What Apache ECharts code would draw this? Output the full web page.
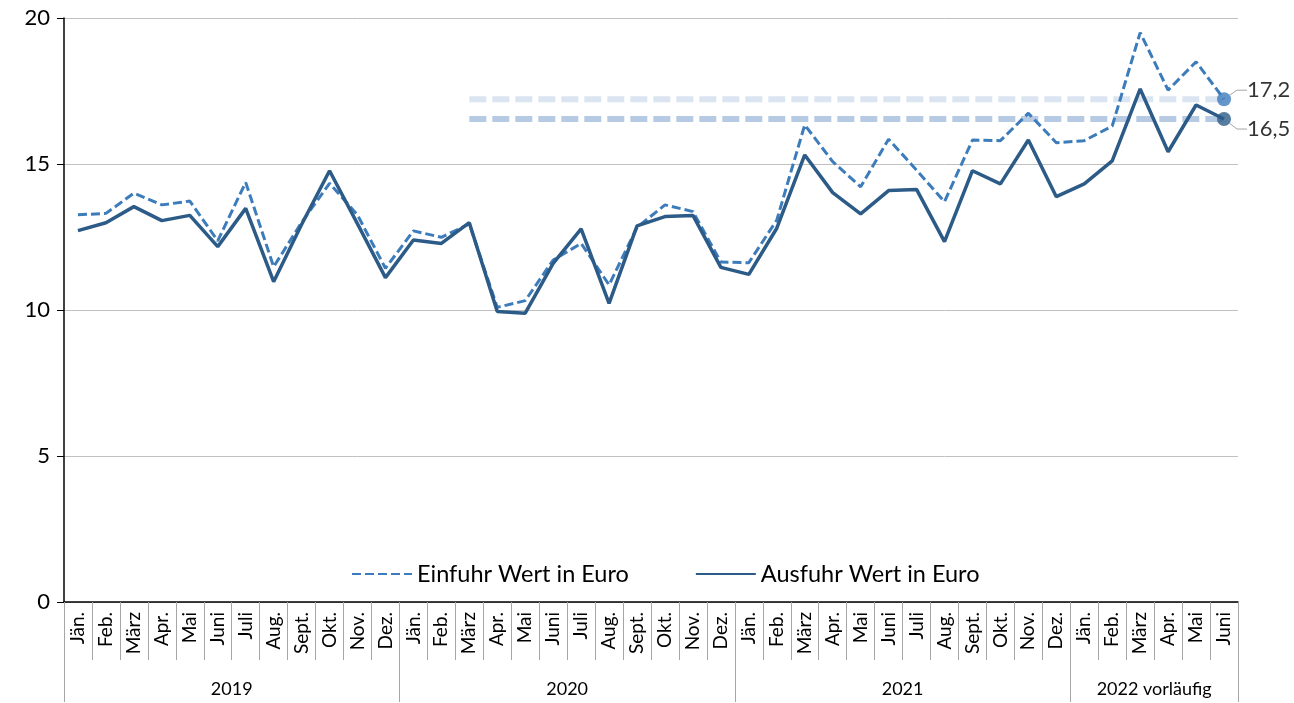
<!DOCTYPE html>
<html>
<head>
<meta charset="utf-8">
<script src="https://cdn.jsdelivr.net/npm/echarts@6/dist/echarts.min.js"></script>
<style>
  html, body { margin: 0; padding: 0; background: #fff; }
  #chart { width: 1294px; height: 703px; }
</style>
</head>
<body>
<div id="chart"></div>
<script>
// months and years for the two level category axis
var monthNames = ['Jän.', 'Feb.', 'März', 'Apr.', 'Mai', 'Juni', 'Juli', 'Aug.', 'Sept.', 'Okt.', 'Nov.', 'Dez.'];
var yearNames = ['2019', '2020', '2021', '2022 vorläufig'];
var yearMonths = [12, 12, 12, 6];

var einfuhr = [
  13.26, 13.31, 14.0, 13.6, 13.73, 12.37, 14.37, 11.48, 13.0, 14.34, 13.25, 11.43,
  12.71, 12.49, 12.95, 10.09, 10.32, 11.71, 12.28, 10.86, 12.83, 13.6, 13.37, 11.64,
  11.62, 13.08, 16.34, 15.08, 14.22, 15.85, 14.79, 13.71, 15.82, 15.8, 16.74, 15.73,
  15.8, 16.3, 19.5, 17.53, 18.5, 17.22
];
var ausfuhr = [
  12.72, 12.99, 13.54, 13.06, 13.24, 12.17, 13.48, 10.97, 12.93, 14.77, 12.95, 11.11,
  12.4, 12.28, 12.99, 9.95, 9.89, 11.6, 12.78, 10.23, 12.88, 13.2, 13.24, 11.46,
  11.22, 12.8, 15.31, 14.02, 13.29, 14.09, 14.13, 12.34, 14.77, 14.32, 15.82, 13.88,
  14.32, 15.11, 17.57, 15.42, 17.02, 16.54
];
var yTicks = [0, 5, 10, 15, 20];
var refStart = 14; // reference lines begin at März 2020

var FONT = 'Lato';
var cEin = '#3d7cbb', cAus = '#2c5b87';

var categories = [];
var yearLabelAt = {};
var yearStartAt = {};
var pos = 0;
yearMonths.forEach(function (n, y) {
  yearStartAt[pos] = true;
  // label sits on the month left of the year's middle, shifted half a band
  yearLabelAt[pos + Math.ceil(n / 2) - 1] = yearNames[y];
  for (var m = 0; m < n; m++) categories.push(monthNames[m]);
  pos += n;
});
var last = categories.length - 1;

function refLine(series) {
  return series.map(function (v, i) { return i >= refStart ? series[last] : null; });
}
function fmt(v) { return v.toFixed(1).replace('.', ','); }

function endPoint(name, series, color, dy) {
  return {
    name: name, type: 'scatter', data: [[last, series[last]]], symbolSize: 14,
    itemStyle: { color: color }, z: 5,
    label: {
      show: true, position: 'right', distance: 10, padding: [0, 0, 0, 6],
      formatter: function (p) { return fmt(p.value[1]); },
      fontFamily: FONT, fontSize: 22, color: '#000'
    },
    labelLayout: { dy: dy },
    labelLine: { show: true, length2: 10, lineStyle: { color: '#a6a6a6', width: 1 } }
  };
}

var chart = echarts.init(document.getElementById('chart'));

var option = {
  animation: false,
  grid: { left: 64, right: 56, top: 18, bottom: 101 },
  legend: {
    data: ['Einfuhr Wert in Euro', 'Ausfuhr Wert in Euro'],
    left: 346, top: 557,
    itemWidth: 60, itemHeight: 14, itemGap: 66,
    itemStyle: { opacity: 0 },
    textStyle: { fontFamily: FONT, fontSize: 23.5, color: '#000' }
  },
  xAxis: [{
    type: 'category',
    data: categories,
    axisLine: { lineStyle: { color: '#000', width: 1.5 } },
    axisTick: { show: true, interval: 0, length: 58, lineStyle: { color: '#a6a6a6' } },
    axisLabel: { interval: 0, rotate: 90, margin: 10, fontFamily: FONT, fontSize: 19, color: '#000' }
  }, {
    type: 'category',
    data: categories,
    position: 'bottom',
    axisLine: { show: false },
    axisTick: {
      show: true,
      length: 100,
      interval: function (i) { return !!yearStartAt[i]; },
      lineStyle: { color: '#a6a6a6' }
    },
    axisLabel: {
      interval: function (i) { return !!yearLabelAt[i]; },
      formatter: function (v, i) { return yearLabelAt[i] || ''; },
      margin: 78,
      padding: [0, 0, 0, 28],
      fontFamily: FONT, fontSize: 18, color: '#000'
    }
  }],
  yAxis: {
    type: 'value',
    min: yTicks[0], max: yTicks[yTicks.length - 1], interval: 5,
    axisLine: { show: true, lineStyle: { color: '#000', width: 1.5 } },
    axisTick: { show: true, length: 7, lineStyle: { color: '#000' } },
    axisLabel: { margin: 14, fontFamily: FONT, fontSize: 22, color: '#000' },
    splitLine: { lineStyle: { color: '#c0c0c0' } }
  },
  series: [
    {
      name: 'ref17', type: 'line', data: refLine(einfuhr), symbol: 'none', silent: true,
      lineStyle: { color: '#dbe5f1', width: 6, type: [17, 6] }
    },
    {
      name: 'ref16', type: 'line', data: refLine(ausfuhr), symbol: 'none', silent: true,
      lineStyle: { color: '#b6cbe3', width: 6, type: [17, 6] }
    },
    {
      name: 'Einfuhr Wert in Euro', type: 'line', data: einfuhr, symbol: 'none',
      itemStyle: { color: cEin },
      lineStyle: { color: cEin, width: 3, type: [9, 4] }
    },
    {
      name: 'Ausfuhr Wert in Euro', type: 'line', data: ausfuhr, symbol: 'none',
      itemStyle: { color: cAus },
      lineStyle: { color: cAus, width: 3.5 }
    },
    endPoint('endEin', einfuhr, cEin, -9),
    endPoint('endAus', ausfuhr, cAus, 10)
  ]
};

chart.setOption(option);
</script>
</body>
</html>
